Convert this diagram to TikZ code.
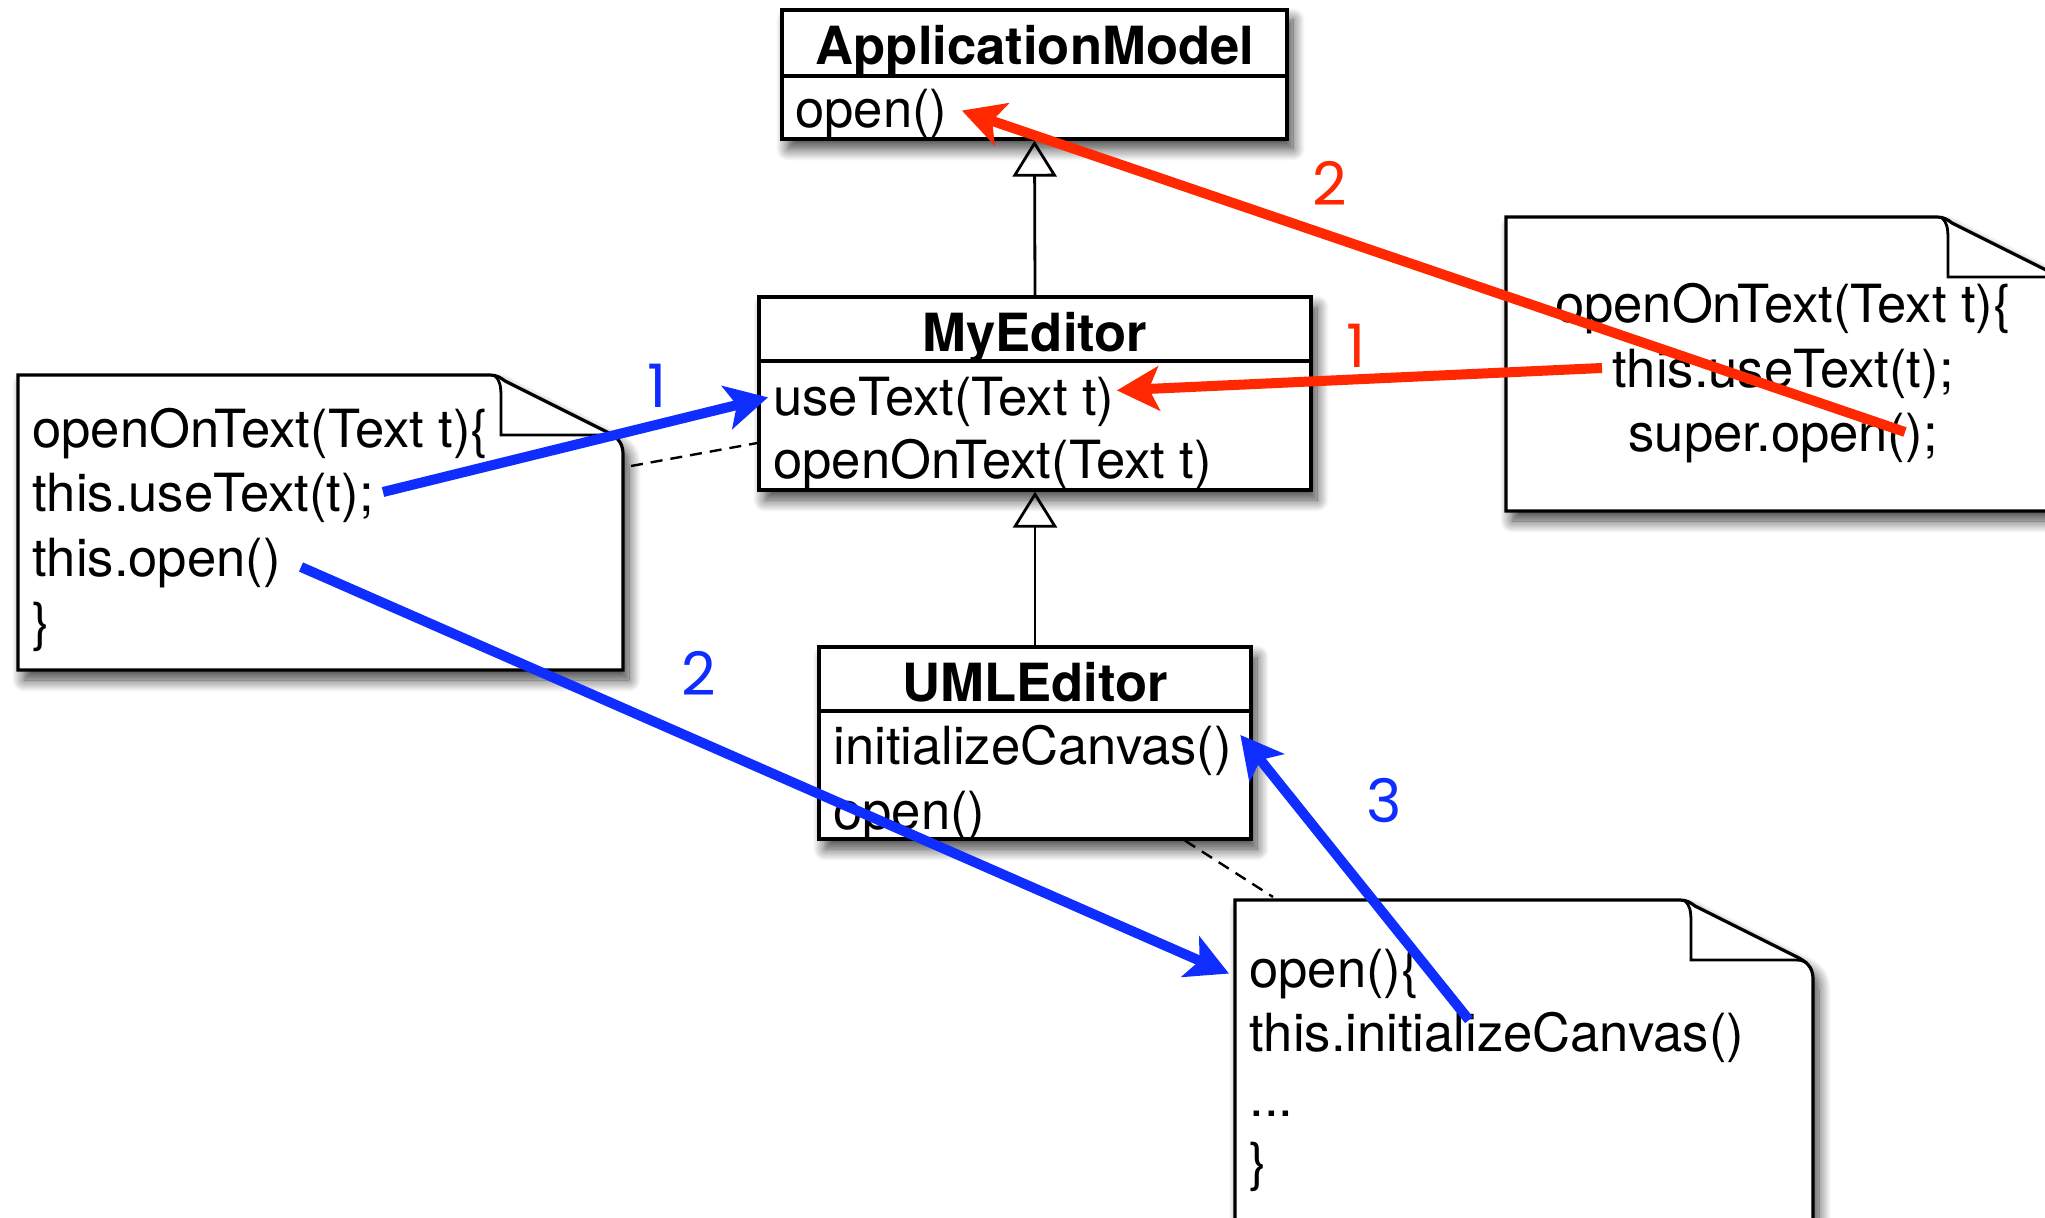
\documentclass[tikz,border=0pt]{standalone}
\usepackage{fontspec}
\setmainfont{TeX Gyre Heros}
\newfontfamily\stepfont{Poppins}
\usetikzlibrary{arrows.meta,shadows.blur}
\definecolor{callred}{RGB}{255,40,0}
\definecolor{callblue}{RGB}{15,45,255}

% note sheet with folded corner: left, top, right, bottom
\newcommand{\notesheet}[4]{%
  \draw[notebox] (#1,#4) -- (#1,#2) -- ({#3-133},#2)
    .. controls ({#3-126},#2) and ({#3-122},{#2+3}) .. ({#3-118},{#2+6})
    -- ({#3-14},{#2+58})
    .. controls ({#3-3},{#2+64}) and (#3,{#2+70}) .. (#3,{#2+80})
    -- (#3,#4) -- cycle;
  \draw[line width=1.4pt] ({#3-128},{#2+1})
    .. controls ({#3-123},{#2+5}) and ({#3-122},{#2+12}) .. ({#3-122},{#2+22})
    -- ({#3-122},{#2+60}) -- ({#3-18},{#2+60})
    .. controls ({#3-12},{#2+60}) and ({#3-9},{#2+61}) .. ({#3-6},{#2+63});
}

\begin{document}
\begin{tikzpicture}[x=0.5pt, y=-0.5pt,
  every node/.style={font=\fontsize{26.3}{32}\selectfont},
  softshadow/.style={blur shadow={shadow xshift=3pt, shadow yshift=-5pt, shadow blur radius=6pt, shadow blur steps=14, shadow opacity=75}},
  classbox/.style={draw, line width=1.6pt, fill=white, inner sep=0pt, softshadow},
  notebox/.style={draw, line width=1.6pt, fill=white, softshadow},
  classname/.style={font=\fontsize{26.3}{32}\selectfont\bfseries, anchor=base, inner sep=0pt},
  member/.style={anchor=base west, inner sep=0pt},
  codeline/.style={anchor=base west, inner sep=0pt},
  divider/.style={line width=1.6pt},
  inherit/.style={line width=1.4pt, -{Triangle[open, length=18pt, width=22pt]}},
  noteline/.style={line width=1.2pt, dash pattern=on 6pt off 4pt},
  redcall/.style={draw=callred, line width=5pt, -{Stealth[length=21pt, width=22pt, inset=5pt]}},
  bluecall/.style={draw=callblue, line width=5pt, -{Stealth[length=21pt, width=22pt, inset=5pt]}},
  redstep/.style={text=callred, font=\stepfont\fontsize{30}{30}\selectfont},
  bluestep/.style={text=callblue, font=\stepfont\fontsize{30}{30}\selectfont}]
\useasboundingbox (0,0) rectangle (2045,1218);

% notes
\notesheet{18}{375}{623}{670}
\notesheet{1506}{217}{2070}{511}
\notesheet{1235}{900}{1813}{1240}

\node[codeline] (ln1) at (32,448) {openOnText(Text t)\{};
\node[codeline] (ln2) at (32,512) {this.useText(t);};
\node[codeline] (ln3) at (32,577) {this.open()};
\node[codeline] (ln4) at (32,641) {\}};

\node[anchor=base, inner sep=0pt] (rn1) at (1783,323) {openOnText(Text t)\{};
\node[anchor=base, inner sep=0pt] (rn2) at (1783,388) {this.useText(t);};
\node[anchor=base, inner sep=0pt] (rn3) at (1783,452) {super.open();};

\node[codeline] (bn1) at (1249,987) {open()\{};
\node[codeline] (bn2) at (1249,1051) {this.initializeCanvas()};
\node[codeline] (bn3) at (1249,1116) {...};
\node[codeline] (bn4) at (1249,1180) {\}};

% classes
\node[classbox, minimum width=252.5pt, minimum height=64.5pt] (am) at (1034.5,74.5) {};
\node[classname] (am-name) at (1035,65) {ApplicationModel};
\draw[divider] (am.west |- 0,76) -- (am.east |- 0,76);
\node[member] (am-open) at (795,128) {open()};

\node[classbox, minimum width=276pt, minimum height=96.5pt] (me) at (1035,393.5) {};
\node[classname] (me-name) at (1035,352) {MyEditor};
\draw[divider] (me.west |- 0,361) -- (me.east |- 0,361);
\node[member] (me-use) at (773,416) {useText(Text t)};
\node[member] (me-open) at (773,479) {openOnText(Text t)};

\node[classbox, minimum width=216pt, minimum height=96pt] (uml) at (1035,743) {};
\node[classname] (uml-name) at (1035,702) {UMLEditor};
\draw[divider] (uml.west |- 0,711) -- (uml.east |- 0,711);
\node[member] (uml-init) at (833,765) {initializeCanvas()};
\node[member] (uml-open) at (833,829) {open()};

\draw[inherit] (me.north) -- (am.south);
\draw[inherit] (uml.north) -- (me.south);

% note ties
\coordinate (ln-tie) at (631,466);
\coordinate (bn-tie) at (1273,897);
\draw[noteline] (ln-tie) -- (me.west |- 0,443);
\draw[noteline] (uml.south -| 1185,0) -- (bn-tie);

% calls
\coordinate (c-blue1) at (383,492);
\coordinate (c-blue2) at (301,567);
\coordinate (c-blue3) at (1469,1020);
\coordinate (c-red1) at (1602,368);
\coordinate (c-red2) at (1905,432);

\draw[redcall] (c-red1) -- ([shift={(2,-12)}]me-use.east);
\draw[redcall] (c-red2) -- ([shift={(14,-4)}]am-open.east);
\draw[bluecall] (c-blue1) -- ([shift={(-5,-5)}]me-use.west);
\draw[bluecall] (c-blue2) -- ([shift={(-20,0)}]bn1.west);
\draw[bluecall] (c-blue3) -- ([shift={(8,-16)}]uml-init.east);

\node[redstep] (r2) at (1330,183) {2};
\node[redstep] (r1) at (1356,346) {1};
\node[bluestep] (b1) at (657,386) {1};
\node[bluestep] (b2) at (699,673) {2};
\node[bluestep] (b3) at (1384,801) {3};
\end{tikzpicture}
\end{document}
